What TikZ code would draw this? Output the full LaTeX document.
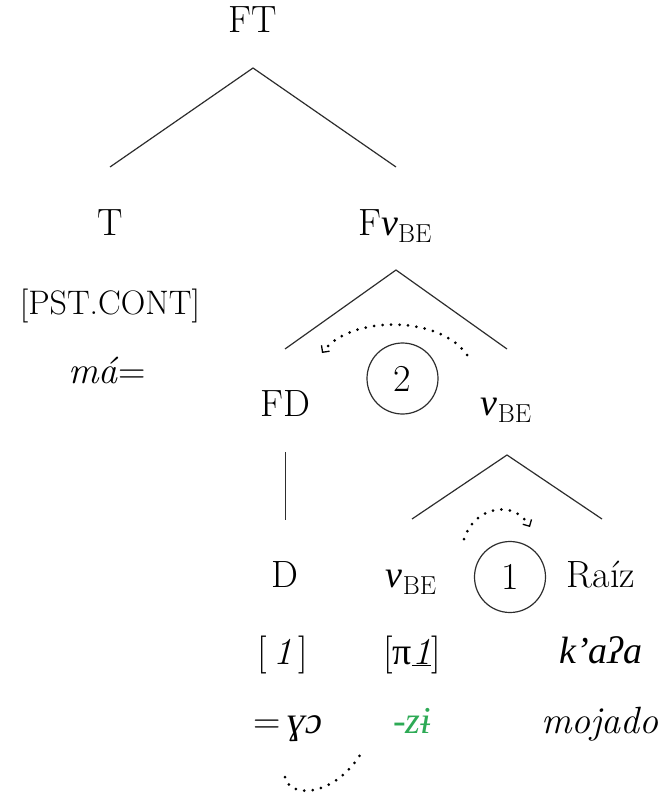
\documentclass[tikz,border=0pt]{standalone}
\usepackage{fontspec}
\newfontfamily\ipafont{Liberation Serif}[Scale=1.0]
\usetikzlibrary{arrows.meta}
\definecolor{zgreen}{RGB}{45,170,85}
\definecolor{linegray}{RGB}{45,45,45}
\newcommand\nubesub{{\ipafont\itshape ν}\raisebox{-0.2em}{\fontsize{26}{30}\selectfont BE}}
\tikzset{
  lbl/.style={inner sep=0pt, anchor=base, font=\fontsize{38}{44}\selectfont},
  branch/.style={draw=linegray, line width=1.2pt},
  numcirc/.style={circle, draw=linegray, line width=1.2pt, minimum size=71pt, inner sep=0pt, font=\fontsize{38}{44}\selectfont},
  dotarc/.style={line width=3pt, dash pattern=on 0pt off 8.5pt, line cap=round},
  barb/.style={-{Straight Barb[length=5pt,width=10pt,line width=1.3pt]}}
}
\begin{document}
\begin{tikzpicture}[x=1pt, y=-1pt]
\useasboundingbox (0,0) rectangle (667,800);
% labels
\node[lbl] (ft) at (253,33) {FT};
\node[lbl] (t) at (110,235) {T};
\node[lbl, font=\fontsize{34}{40}\selectfont] (pst) at (110,314) {[PST.CONT]};
\node[lbl] (ma) at (107,383) {\textit{má}=};
\node[lbl] (fvbe) at (395,235) {F\nubesub};
\node[lbl] (fd) at (285,416) {FD};
\node[lbl] (vbe) at (506,415) {\nubesub};
\node[lbl] (d) at (285,587) {D};
\node[lbl] (vbe2) at (411,587) {\nubesub};
\node[lbl] (raiz) at (601,587) {Raíz};
\node[lbl] (one) at (283,664) {[\,\textit{1}\,]};
\node[lbl] (pione) at (412,664) {[{\ipafont π}\underline{\textit{1}}]};
\node[lbl] (kaa) at (601,663) {{\ipafont\itshape k’aʔa}};
\node[lbl] (yo) at (288,733) {=\,{\ipafont\itshape ɣɔ}};
\node[lbl, text=zgreen] (zi) at (412,733) {{\ipafont\itshape -zɨ}};
\node[lbl] (moj) at (600,733) {\textit{mojado}};
\node[numcirc] (c2) at (402.5,378.5) {2};
\node[numcirc] (c1) at (510,577) {1};
% branch points
\coordinate (ftA) at (253,68);
\coordinate (ftL) at (110,167);
\coordinate (ftR) at (396,167);
\coordinate (fvA) at (396,270);
\coordinate (fvL) at (285,349);
\coordinate (fvR) at (507,349);
\coordinate (vA) at (507,455);
\coordinate (vL) at (412,519);
\coordinate (vR) at (602,519);
\coordinate (fdT) at (285.7,452);
\coordinate (fdB) at (285.7,520);
\draw[branch] (ftL) -- (ftA) -- (ftR);
\draw[branch] (fvL) -- (fvA) -- (fvR);
\draw[branch] (vL) -- (vA) -- (vR);
\draw[branch] (fdT) -- (fdB);
% movement arrows
\coordinate (m2s) at (467,355);
\coordinate (m2e) at (322,353);
\coordinate (m1s) at (464,539);
\coordinate (m1e) at (530,527);
\coordinate (bs) at (285,777);
\coordinate (be) at (360,755);
\draw[dotarc, barb] (m2s) .. controls (440,315) and (350,315) .. (m2e);
\draw[dotarc, barb] (m1s) .. controls (475,505) and (515,500) .. (m1e);
\draw[dotarc] (bs) .. controls (290,800) and (335,795) .. (be);
\end{tikzpicture}
\end{document}
